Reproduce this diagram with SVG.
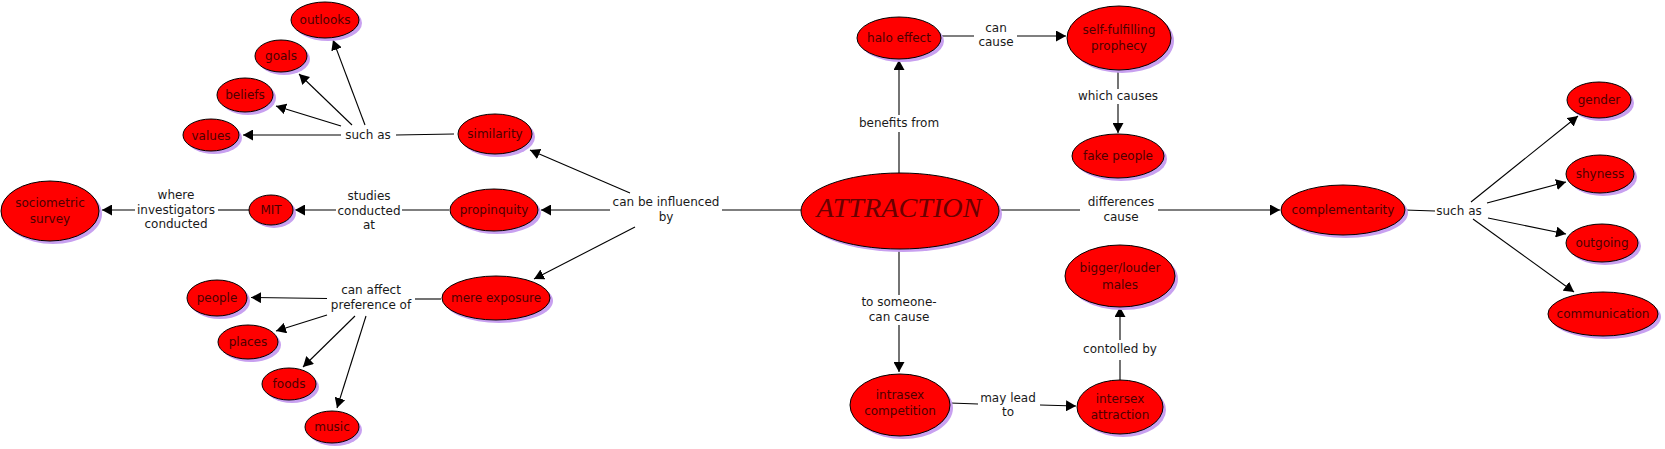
<svg xmlns="http://www.w3.org/2000/svg" width="1665" height="449" viewBox="0 0 1665 449">
<style>
.sh{fill:#c8a0f0}
.nd{fill:#ff0000;stroke:#000;stroke-width:1}
.nt{font-family:"DejaVu Sans",Verdana,sans-serif;font-size:12px;fill:#4d0000;text-anchor:middle}
.lt{font-family:"DejaVu Sans",Verdana,sans-serif;font-size:12px;fill:#1a1a1a;text-anchor:middle}
.big{font-family:"Liberation Serif",serif;font-style:italic;font-size:27px;fill:#6a0000;text-anchor:middle}
.c line{stroke:#000;stroke-width:1.1;fill:none}
.a{marker-end:url(#ah)}
</style>
<defs>
<marker id="ah" markerUnits="userSpaceOnUse" markerWidth="11" markerHeight="11" refX="10" refY="5.5" orient="auto" viewBox="0 0 11 11">
<path d="M0,0 L10,5.5 L0,11 z" fill="#000"/>
</marker>
</defs>
<rect width="1665" height="449" fill="#fff"/>

<g id="connectors" class="c">
<line x1="454" y1="134" x2="396" y2="135"/>
<line class="a" x1="341" y1="135" x2="243" y2="135"/>
<line class="a" x1="341" y1="126" x2="276" y2="106"/>
<line class="a" x1="352" y1="125" x2="299" y2="74"/>
<line class="a" x1="365" y1="125" x2="333" y2="40"/>
<line x1="449" y1="210" x2="402" y2="210"/>
<line class="a" x1="336" y1="210" x2="295" y2="210"/>
<line x1="249" y1="210" x2="218" y2="210"/>
<line class="a" x1="135" y1="210" x2="102" y2="210"/>
<line x1="441" y1="299" x2="415" y2="299"/>
<line class="a" x1="327" y1="298.5" x2="251" y2="297.5"/>
<line class="a" x1="327" y1="315" x2="276" y2="331"/>
<line class="a" x1="355" y1="316" x2="303" y2="367"/>
<line class="a" x1="366" y1="316" x2="337" y2="408"/>
<line x1="801" y1="210" x2="722" y2="210"/>
<line class="a" x1="610" y1="210" x2="541" y2="210"/>
<line class="a" x1="630" y1="193" x2="530" y2="150"/>
<line class="a" x1="635" y1="227" x2="534" y2="279"/>
<line x1="899" y1="173" x2="899" y2="132"/>
<line class="a" x1="899" y1="115" x2="899" y2="60"/>
<line x1="941" y1="36" x2="974" y2="36"/>
<line class="a" x1="1017" y1="36" x2="1066" y2="36"/>
<line x1="1118" y1="70" x2="1118" y2="89"/>
<line class="a" x1="1118" y1="104" x2="1118" y2="133"/>
<line x1="999" y1="210" x2="1080" y2="210"/>
<line class="a" x1="1158" y1="210" x2="1280" y2="210"/>
<line x1="1405" y1="210" x2="1435" y2="211"/>
<line class="a" x1="1471" y1="202" x2="1578" y2="116"/>
<line class="a" x1="1487" y1="203" x2="1566" y2="182"/>
<line class="a" x1="1488" y1="218" x2="1566" y2="234"/>
<line class="a" x1="1473" y1="219" x2="1574" y2="292"/>
<line x1="899" y1="249" x2="899" y2="295"/>
<line class="a" x1="899" y1="325" x2="899" y2="372"/>
<line x1="950" y1="403" x2="978" y2="404"/>
<line class="a" x1="1040" y1="405" x2="1076" y2="406"/>
<line x1="1120" y1="380" x2="1120" y2="360"/>
<line class="a" x1="1120" y1="340" x2="1120" y2="307"/>
</g>

<g id="labels">
<text class="lt" x="368" y="139">such as</text>
<text class="lt" x="176" y="198.5">where</text>
<text class="lt" x="176" y="213.5">investigators</text>
<text class="lt" x="176" y="227.5">conducted</text>
<text class="lt" x="369" y="200">studies</text>
<text class="lt" x="369" y="214.5">conducted</text>
<text class="lt" x="369" y="229">at</text>
<text class="lt" x="371" y="294">can affect</text>
<text class="lt" x="371" y="309">preference of</text>
<text class="lt" x="666" y="206">can be influenced</text>
<text class="lt" x="666" y="221">by</text>
<text class="lt" x="899" y="127">benefits from</text>
<text class="lt" x="996" y="32">can</text>
<text class="lt" x="996" y="46">cause</text>
<text class="lt" x="1118" y="100">which causes</text>
<text class="lt" x="1121" y="206">differences</text>
<text class="lt" x="1121" y="221">cause</text>
<text class="lt" x="1459" y="215">such as</text>
<text class="lt" x="899" y="306">to someone-</text>
<text class="lt" x="899" y="321">can cause</text>
<text class="lt" x="1008" y="402">may lead</text>
<text class="lt" x="1008" y="416">to</text>
<text class="lt" x="1120" y="353">contolled by</text>
</g>

<g id="n-outlooks"><ellipse class="sh" cx="328" cy="23" rx="34" ry="18"/><ellipse class="nd" cx="325" cy="20" rx="34" ry="18"/><text class="nt" x="325" y="24">outlooks</text></g>
<g id="n-goals"><ellipse class="sh" cx="284" cy="59" rx="26" ry="16"/><ellipse class="nd" cx="281" cy="56" rx="26" ry="16"/><text class="nt" x="281" y="60">goals</text></g>
<g id="n-beliefs"><ellipse class="sh" cx="248" cy="98" rx="28" ry="17"/><ellipse class="nd" cx="245" cy="95" rx="28" ry="17"/><text class="nt" x="245" y="99">beliefs</text></g>
<g id="n-values"><ellipse class="sh" cx="214" cy="138" rx="28" ry="16"/><ellipse class="nd" cx="211" cy="135" rx="28" ry="16"/><text class="nt" x="211" y="140">values</text></g>
<g id="n-similarity"><ellipse class="sh" cx="498" cy="137" rx="37" ry="20"/><ellipse class="nd" cx="495" cy="134" rx="37" ry="20"/><text class="nt" x="495" y="138">similarity</text></g>
<g id="n-sociometric"><ellipse class="sh" cx="53" cy="214" rx="49" ry="30"/><ellipse class="nd" cx="50" cy="211" rx="49" ry="30"/><text class="nt" x="50" y="206.5">sociometric</text><text class="nt" x="50" y="223">survey</text></g>
<g id="n-mit"><ellipse class="sh" cx="274" cy="213" rx="22" ry="15"/><ellipse class="nd" cx="271" cy="210" rx="22" ry="15"/><text class="nt" x="271" y="214">MIT</text></g>
<g id="n-propinquity"><ellipse class="sh" cx="497" cy="213" rx="44" ry="21"/><ellipse class="nd" cx="494" cy="210" rx="44" ry="21"/><text class="nt" x="494" y="214">propinquity</text></g>
<g id="n-mere"><ellipse class="sh" cx="499" cy="301" rx="54" ry="22"/><ellipse class="nd" cx="496" cy="298" rx="54" ry="22"/><text class="nt" x="496" y="302">mere exposure</text></g>
<g id="n-people"><ellipse class="sh" cx="220" cy="301" rx="30" ry="18"/><ellipse class="nd" cx="217" cy="298" rx="30" ry="18"/><text class="nt" x="217" y="302">people</text></g>
<g id="n-places"><ellipse class="sh" cx="251" cy="345" rx="30" ry="17"/><ellipse class="nd" cx="248" cy="342" rx="30" ry="17"/><text class="nt" x="248" y="346">places</text></g>
<g id="n-foods"><ellipse class="sh" cx="292" cy="387" rx="27" ry="16"/><ellipse class="nd" cx="289" cy="384" rx="27" ry="16"/><text class="nt" x="289" y="388">foods</text></g>
<g id="n-music"><ellipse class="sh" cx="335" cy="430" rx="27" ry="16"/><ellipse class="nd" cx="332" cy="427" rx="27" ry="16"/><text class="nt" x="332" y="431">music</text></g>
<g id="n-attraction"><ellipse class="sh" cx="903" cy="214" rx="99" ry="38"/><ellipse class="nd" cx="900" cy="211" rx="99" ry="38"/><text class="big" x="899" y="217" textLength="165" lengthAdjust="spacingAndGlyphs">ATTRACTION</text></g>
<g id="n-halo"><ellipse class="sh" cx="902" cy="41" rx="42" ry="21"/><ellipse class="nd" cx="899" cy="38" rx="42" ry="21"/><text class="nt" x="899" y="42">halo effect</text></g>
<g id="n-selffulfilling"><ellipse class="sh" cx="1122" cy="41" rx="52" ry="32"/><ellipse class="nd" cx="1119" cy="38" rx="52" ry="32"/><text class="nt" x="1119" y="33.5">self-fulfilling</text><text class="nt" x="1119" y="50">prophecy</text></g>
<g id="n-fake"><ellipse class="sh" cx="1121" cy="159" rx="46" ry="22"/><ellipse class="nd" cx="1118" cy="156" rx="46" ry="22"/><text class="nt" x="1118" y="160">fake people</text></g>
<g id="n-complementarity"><ellipse class="sh" cx="1346" cy="213" rx="62" ry="25"/><ellipse class="nd" cx="1343" cy="210" rx="62" ry="25"/><text class="nt" x="1343" y="214">complementarity</text></g>
<g id="n-gender"><ellipse class="sh" cx="1602" cy="103" rx="32" ry="18"/><ellipse class="nd" cx="1599" cy="100" rx="32" ry="18"/><text class="nt" x="1599" y="104">gender</text></g>
<g id="n-shyness"><ellipse class="sh" cx="1603" cy="177" rx="34" ry="19"/><ellipse class="nd" cx="1600" cy="174" rx="34" ry="19"/><text class="nt" x="1600" y="178">shyness</text></g>
<g id="n-outgoing"><ellipse class="sh" cx="1605" cy="246" rx="36" ry="19"/><ellipse class="nd" cx="1602" cy="243" rx="36" ry="19"/><text class="nt" x="1602" y="247">outgoing</text></g>
<g id="n-communication"><ellipse class="sh" cx="1606" cy="317" rx="55" ry="22"/><ellipse class="nd" cx="1603" cy="314" rx="55" ry="22"/><text class="nt" x="1603" y="318">communication</text></g>
<g id="n-bigger"><ellipse class="sh" cx="1123" cy="279" rx="55" ry="31"/><ellipse class="nd" cx="1120" cy="276" rx="55" ry="31"/><text class="nt" x="1120" y="272">bigger/louder</text><text class="nt" x="1120" y="288.5">males</text></g>
<g id="n-intrasex"><ellipse class="sh" cx="903" cy="408" rx="50" ry="31"/><ellipse class="nd" cx="900" cy="405" rx="50" ry="31"/><text class="nt" x="900" y="398.5">intrasex</text><text class="nt" x="900" y="415">competition</text></g>
<g id="n-intersex"><ellipse class="sh" cx="1123" cy="410" rx="43" ry="27"/><ellipse class="nd" cx="1120" cy="407" rx="43" ry="27"/><text class="nt" x="1120" y="403">intersex</text><text class="nt" x="1120" y="419">attraction</text></g>
</svg>
